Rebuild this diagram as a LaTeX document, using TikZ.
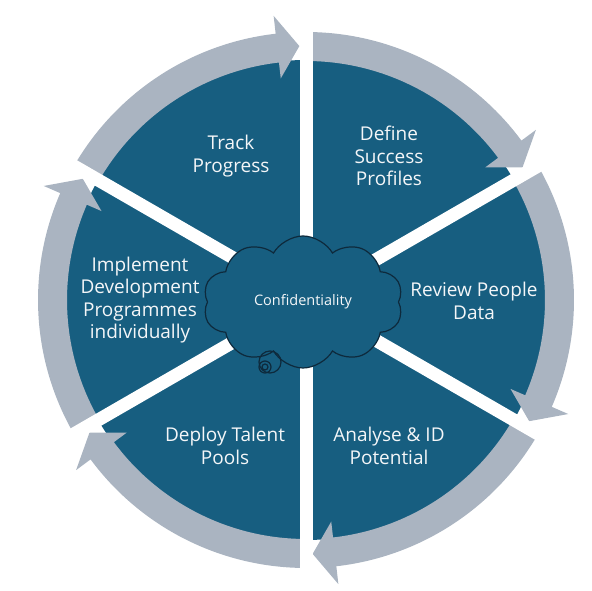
\documentclass[tikz,border=0pt]{standalone}
\usepackage{fontspec}
\setmainfont{Open Sans}
\usetikzlibrary{shapes.symbols}
\definecolor{segblue}{HTML}{175E80}
\definecolor{ringgray}{HTML}{AAB4C1}
\definecolor{cloudline}{HTML}{0E2A3C}
\definecolor{labeltext}{HTML}{F4F6F8}
\tikzset{
  seglabel/.style={text=labeltext, align=center, font=\fontsize{19}{22.5}\selectfont},
  bubble/.style={circle, draw=cloudline, line width=1.2pt, inner sep=0pt},
}
\begin{document}
\begin{tikzpicture}[x=1pt,y=1pt]
\useasboundingbox (0,0) rectangle (592,591);
\coordinate (C) at (306,291);
\fill[segblue] (C) circle (240);
\foreach \k in {0,...,5} {
  \pgfmathsetmacro\A{90-60*\k-0.5}
  \pgfmathsetmacro\B{90-60*(\k+1)+1.5}
  \pgfmathsetmacro\H{\B+5}
  \fill[ringgray] ([shift={(\A:268)}]C) arc[start angle=\A, end angle=\H, radius=268]
     -- ([shift={(\H:286)}]C) -- ([shift={(\B:254)}]C) -- ([shift={(\H:223)}]C)
     -- ([shift={(\H:239)}]C) arc[start angle=\H, end angle=\A, radius=239] -- cycle;
}
\foreach \k in {0,...,5} \draw[white, line width=13pt] (C) -- ++(90-60*\k:300);
\node[seglabel] (track) at (231,435) {Track\\Progress};
\node[seglabel] (define) at (389,435) {Define\\Success\\Profiles};
\node[seglabel] (review) at (474,290) {Review People\\Data};
\node[seglabel] (analyse) at (389,145) {Analyse \& ID\\Potential};
\node[seglabel] (deploy) at (225,145) {Deploy Talent\\Pools};
\node[seglabel] (implement) at (140,291) {Implement\\Development\\Programmes\\individually};
\node[cloud, cloud puffs=10, cloud puff arc=120, aspect=1.5, minimum width=200pt, minimum height=132pt,
      fill=segblue, draw=cloudline, line width=1.2pt, text=labeltext,
      font=\fontsize{14.5}{16}\selectfont] (cloud) at (303,289) {Confidentiality};
\node[bubble, minimum size=22pt] (bub1) at (270,229) {};
\node[bubble, minimum size=12pt] (bub2) at (265,224) {};
\node[bubble, minimum size=6pt] (bub3) at (265,224) {};
\end{tikzpicture}
\end{document}
